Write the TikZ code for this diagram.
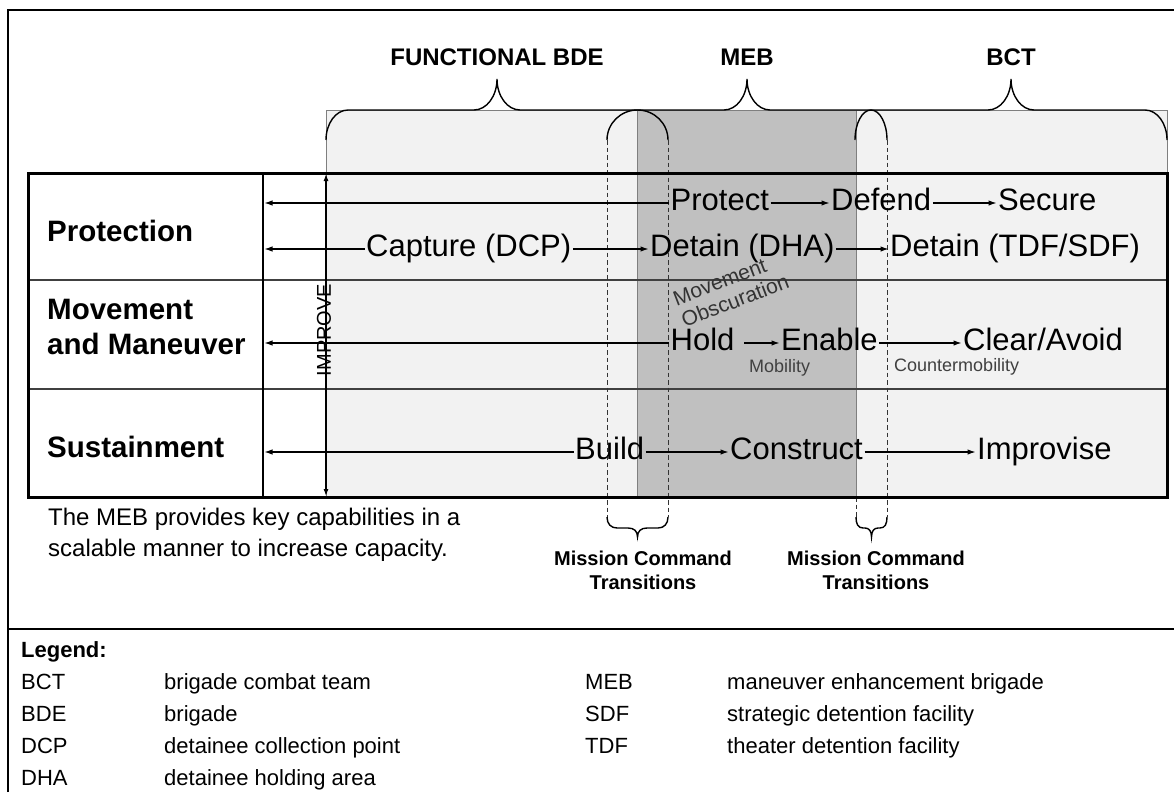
\documentclass[tikz,border=0pt]{standalone}
\usepackage{fontspec}
\setmainfont{Liberation Sans}
\usetikzlibrary{arrows.meta}

\definecolor{panel}{HTML}{F2F2F2}
\definecolor{mebzone}{HTML}{C0C0C0}
\definecolor{edge}{HTML}{7F7F7F}

\newcommand{\pxsize}[1]{\fontsize{#1}{#1}\selectfont}

% upper brace: left end, right end, left radius, right radius, tip position
\newcommand{\topbrace}[5]{%
  \draw[bracemark] (#1,140) .. controls (#1,123.4) and ({#1+0.448*#3},110) .. ({#1+#3},110)
    -- ({#5-23},110) .. controls ({#5-10.3},110) and (#5,96.1) .. (#5,79)
    .. controls (#5,96.1) and ({#5+10.3},110) .. ({#5+23},110)
    -- ({#2-#4},110) .. controls ({#2-0.448*#4},110) and (#2,123.4) .. (#2,140);}

\tikzset{
  item/.style={font=\pxsize{31}, inner sep=1.5pt, text height=22pt, text depth=7pt, anchor=west},
  rowlabel/.style={font=\bfseries\fontsize{29.5}{35}\selectfont, align=left, anchor=west, inner sep=0pt},
  flow/.style={-{Latex[length=8pt,width=5.5pt]}, line width=1.1pt},
  transition/.style={dash pattern=on 4.5pt off 3pt, line width=1pt, draw=black!80},
  bracemark/.style={line width=1.4pt},
  title/.style={font=\bfseries\pxsize{24}, inner sep=0pt},
  note/.style={font=\pxsize{18}, text=black!75, inner sep=0pt, anchor=west},
  legendtxt/.style={font=\pxsize{22}, anchor=base west, inner sep=0pt},
  mct/.style={font=\bfseries\fontsize{20}{24}\selectfont, align=center, inner sep=0pt},
}

\begin{document}
\begin{tikzpicture}[x=1pt,y=-1pt]
\useasboundingbox (0,0) rectangle (1174,792);

% page frame and legend rule
\draw[line width=2pt] (8,792) -- (8,10) -- (1174,10);
\draw[line width=2.5pt] (8,629) -- (1174,629);

% shaded panels
\draw[fill=panel, draw=edge, line width=0.8pt] (326,110) rectangle (1167,497);
\draw[fill=mebzone, draw=edge, line width=1pt] (637,110) rectangle (856,497);

% grid lines of the table
\draw[line width=1.3pt, black!75] (28,280) -- (1167,280);
\draw[line width=1.3pt, black!75] (28,389) -- (1167,389);
\draw[line width=1.5pt] (263,173) -- (263,497);
\coordinate (divider) at (264.5,300);

% mission command transition lines
\draw[transition] (607,140) -- (607,517);
\draw[transition] (668,140) -- (668,517);
\draw[transition] (887,140) -- (887,517);
\draw[transition] (856,497) -- (856,517);

% table outline
\draw[line width=3pt] (28,173) rectangle (1167,497);

% brigade braces
\topbrace{326}{668}{22}{30.5}{497}
\topbrace{607}{887}{30.5}{16}{747}
\topbrace{855}{1167}{16}{22}{1011}
\node[title] (tFBDE) at (497,57) {FUNCTIONAL BDE};
\node[title] (tMEB) at (747,57) {MEB};
\node[title] (tBCT) at (1011,57) {BCT};

% transition braces below the table
\draw[line width=1.4pt] (607,517) .. controls (607,524) and (611,528) .. (617,528) -- (628,528)
  .. controls (634,528) and (637.5,531) .. (637.5,537)
  .. controls (637.5,531) and (641,528) .. (647,528) -- (658,528)
  .. controls (664,528) and (668,524) .. (668,517);
\draw[line width=1.4pt] (856,517) .. controls (856,524) and (858,528) .. (863,528) -- (865,528)
  .. controls (869,528) and (871.5,531) .. (871.5,537)
  .. controls (871.5,531) and (874,528) .. (878,528) -- (880,528)
  .. controls (885,528) and (887,524) .. (887,517);

% row labels
\node[rowlabel] (lProt) at (47,231) {Protection};
\node[rowlabel] (lMove) at (47,327) {Movement\\and Maneuver};
\node[rowlabel] (lSust) at (47,447) {Sustainment};

% improve axis
\coordinate (imTop) at (326,174);
\coordinate (imBot) at (326,496);
\draw[{Latex[length=7pt,width=5pt]}-{Latex[length=7pt,width=5pt]}, line width=1.1pt] (imTop) -- (imBot);
\node[font=\pxsize{20}, rotate=90, inner sep=0pt] (improve) at (324,330) {IMPROVE};

% protection row
\node[item] (protect) at (669,203) {Protect};
\node[item] (defend) at (829.5,203) {Defend};
\node[item] (secure) at (996.5,203) {Secure};
\node[item] (capture) at (364.5,249) {Capture (DCP)};
\node[item] (dha) at (648.5,249) {Detain (DHA)};
\node[item] (tdf) at (888.5,249) {Detain (TDF/SDF)};
\draw[flow] (protect.east) -- (defend.west);
\draw[flow] (defend.east) -- (secure.west);
\draw[flow] (protect.west) -- (protect.west -| divider);
\draw[flow] (capture.east) -- (dha.west);
\draw[flow] (dha.east) -- (tdf.west);
\draw[flow] (capture.west) -- (capture.west -| divider);

% movement and maneuver row
\node[font=\fontsize{21}{23}\selectfont, rotate=21, align=left, text=black!80, inner sep=0pt] (obsc) at (731,290) {Movement\\Obscuration};
\node[item] (hold) at (669,343) {Hold};
\node[item] (enable) at (779.5,343) {Enable};
\node[item] (clear) at (961.5,343) {Clear/Avoid};
\draw[flow, shorten <=8pt] (hold.east) -- (enable.west);
\draw[flow] (enable.east) -- (clear.west);
\draw[flow] (hold.west) -- (hold.west -| divider);
\node[note] (mob) at (749,368) {Mobility};
\node[note] (cmob) at (894,367) {Countermobility};

% sustainment row
\node[item] (build) at (573.5,452) {Build};
\node[item] (construct) at (728.5,452) {Construct};
\node[item] (improvise) at (975.5,452) {Improvise};
\draw[flow] (build.east) -- (construct.west);
\draw[flow] (construct.east) -- (improvise.west);
\draw[flow] (build.west) -- (build.west -| divider);

% notes under the table
\node[font=\fontsize{24}{31}\selectfont, align=left, anchor=west, inner sep=0pt] (scal) at (48,535)
  {The MEB provides key capabilities in a\\scalable manner to increase capacity.};
\node[mct] (mct1) at (643,570) {Mission Command\\Transitions};
\node[mct] (mct2) at (876,570) {Mission Command\\Transitions};

% legend
\node[legendtxt, font=\bfseries\pxsize{22}] (lghead) at (21,657) {Legend:};
\node[legendtxt] (kBCT) at (21,689) {BCT};
\node[legendtxt] (dBCT) at (164,689) {brigade combat team};
\node[legendtxt] (kBDE) at (21,721) {BDE};
\node[legendtxt] (dBDE) at (164,721) {brigade};
\node[legendtxt] (kDCP) at (21,753) {DCP};
\node[legendtxt] (dDCP) at (164,753) {detainee collection point};
\node[legendtxt] (kDHA) at (21,785) {DHA};
\node[legendtxt] (dDHA) at (164,785) {detainee holding area};
\node[legendtxt] (kMEB) at (585,689) {MEB};
\node[legendtxt] (dMEB) at (727,689) {maneuver enhancement brigade};
\node[legendtxt] (kSDF) at (585,721) {SDF};
\node[legendtxt] (dSDF) at (727,721) {strategic detention facility};
\node[legendtxt] (kTDF) at (585,753) {TDF};
\node[legendtxt] (dTDF) at (727,753) {theater detention facility};
\end{tikzpicture}
\end{document}
